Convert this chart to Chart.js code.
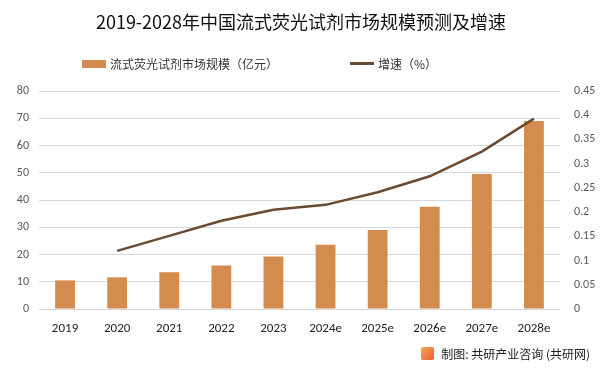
<!DOCTYPE html>
<html>
<head>
<meta charset="utf-8">
<script src="https://cdn.jsdelivr.net/npm/chart.js@4"></script>
<style>
  body { margin: 0; background: #fff; font-family: "Noto Sans CJK SC", "Noto Sans", sans-serif; }
  #wrap { position: relative; width: 602px; height: 373px; overflow: hidden; }
  #chart { position: absolute; left: 0; top: 0; }
  .title { position: absolute; left: 0; width: 602px; top: 8px; text-align: center; font-size: 18px; color: #111; }
  .legend { position: absolute; top: 55px; font-size: 12px; color: #333; display: flex; align-items: center; }
  .legend .sw { display: inline-block; margin-right: 4px; }
  .footer { position: absolute; right: 12px; top: 345px; font-size: 12px; color: #222; display: flex; align-items: center; }
  .logo { width: 13px; height: 13px; margin-right: 7px; background: linear-gradient(135deg, #f7a35c, #e8622c); border-radius: 2px; }
</style>
</head>
<body>
<div id="wrap">
  <canvas id="chart" width="602" height="373"></canvas>
  <div class="title">2019-2028年中国流式荧光试剂市场规模预测及增速</div>
  <div class="legend" style="left:82px"><span class="sw" style="width:24px;height:8px;background:#D38C4E"></span>流式荧光试剂市场规模（亿元）</div>
  <div class="legend" style="left:350px"><span class="sw" style="width:24px;height:3px;background:#6B4A32"></span>增速（%）</div>
  <div class="footer"><span class="logo"></span>制图: 共研产业咨询 (共研网)</div>
</div>
<script>
// 数据
const annees = ["2019", "2020", "2021", "2022", "2023", "2024e", "2025e", "2026e", "2027e", "2028e"];
const marche = [10.5, 11.6, 13.5, 16.0, 19.3, 23.6, 29.0, 37.5, 49.5, 69.0];
const croissance = [null, 0.12, 0.151, 0.182, 0.205, 0.215, 0.241, 0.274, 0.325, 0.393];
const ticksGauche = [0, 10, 20, 30, 40, 50, 60, 70, 80];
const ticksDroite = [0, 0.05, 0.1, 0.15, 0.2, 0.25, 0.3, 0.35, 0.4, 0.45];

const tickFont = { family: "Calibri, Carlito, 'Liberation Sans', sans-serif", size: 12 };

new Chart(document.getElementById("chart"), {
  type: 'bar',
  data: {
    labels: annees,
    datasets: [
      {
        type: 'line',
        label: '增速（%）',
        data: croissance,
        yAxisID: 'y2',
        borderColor: '#6B4A32',
        borderWidth: 2.5,
        pointRadius: 0,
        tension: 0,
        spanGaps: false,
        order: 0
      },
      {
        label: '流式荧光试剂市场规模（亿元）',
        data: marche,
        yAxisID: 'y',
        backgroundColor: '#D38C4E',
        categoryPercentage: 1,
        barPercentage: 0.38,
        order: 1
      }
    ]
  },
  options: {
    responsive: false,
    animation: false,
    layout: { padding: { top: 91, bottom: 34, left: 0, right: 0 } },
    plugins: {
      legend: { display: false },
      tooltip: { enabled: false }
    },
    scales: {
      x: {
        grid: { display: false },
        border: { display: false },
        ticks: { color: '#222', font: { family: tickFont.family, size: 13 }, padding: 4 },
        afterFit: function(s) { s.height = 30; }
      },
      y: {
        position: 'left',
        min: 0,
        max: 80,
        afterBuildTicks: function(s) { s.ticks = ticksGauche.map(v => ({ value: v })); },
        grid: { color: '#D9D9D9', drawTicks: false },
        border: { display: false },
        ticks: { color: '#595959', font: tickFont, padding: 10 },
        afterFit: function(s) { s.width = 39; }
      },
      y2: {
        position: 'right',
        min: 0,
        max: 0.45,
        afterBuildTicks: function(s) { s.ticks = ticksDroite.map(v => ({ value: v })); },
        grid: { display: false },
        border: { display: false },
        ticks: { color: '#595959', font: tickFont, padding: 6, callback: v => String(v) },
        afterFit: function(s) { s.width = 42; }
      }
    }
  }
});
</script>
</body>
</html>
